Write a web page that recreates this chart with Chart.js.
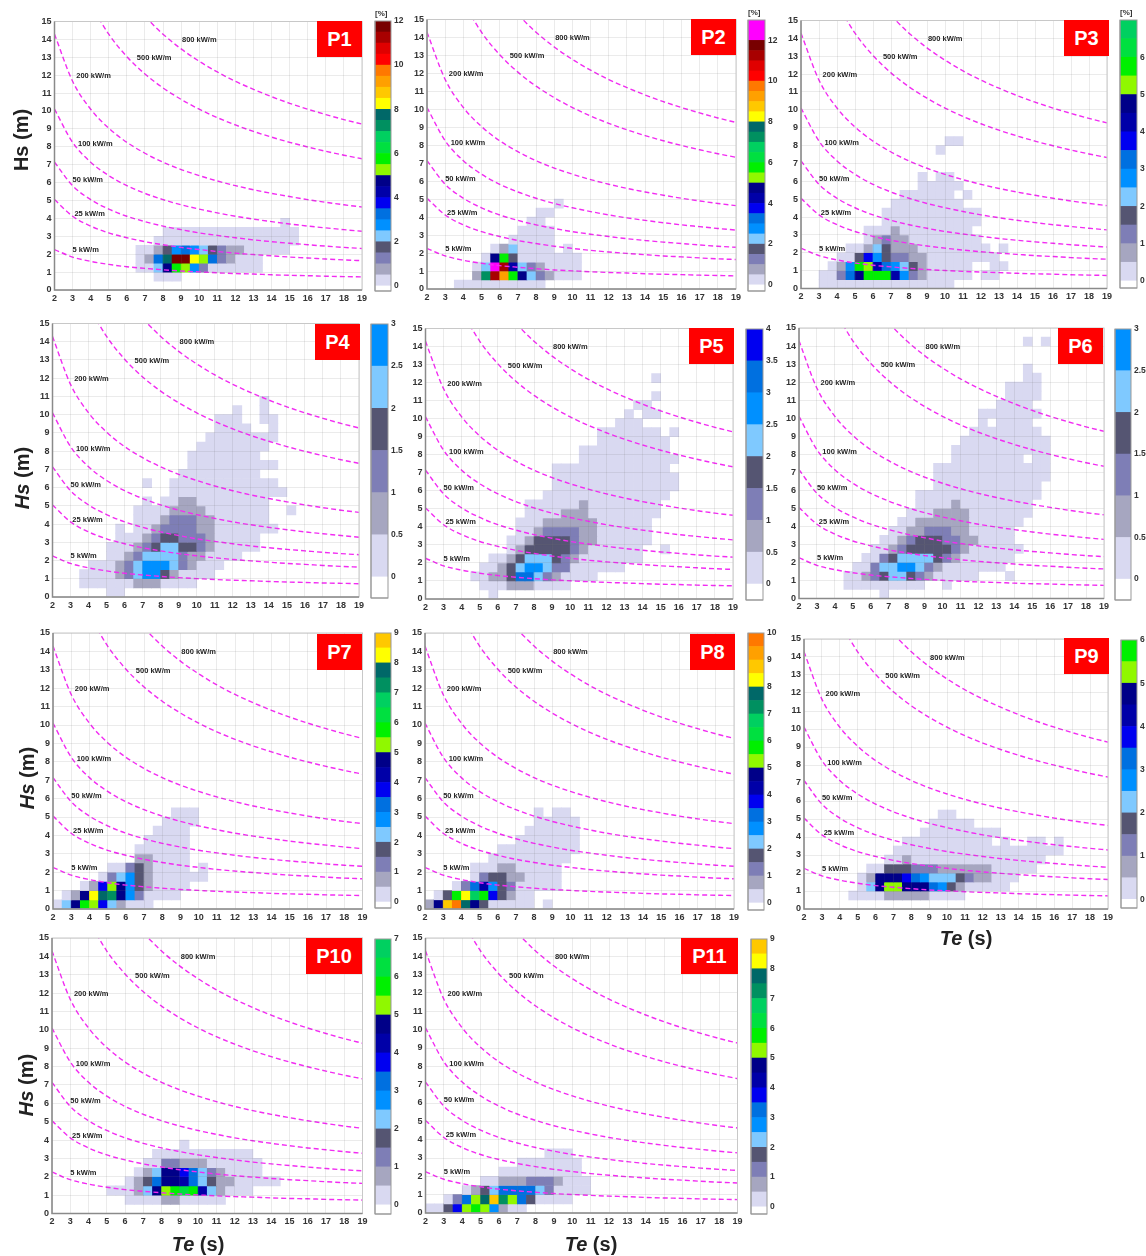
<!DOCTYPE html>
<html>
<head>
<meta charset="utf-8">
<title>Hs-Te scatter tables P1-P11</title>
<script src="https://cdn.jsdelivr.net/npm/chart.js@4/dist/chart.umd.min.js"></script>
<style>
  html, body { margin: 0; padding: 0; background: #fff; }
  #page { position: relative; width: 1146px; height: 1256px; overflow: hidden; font-family: "Liberation Sans", Arial, sans-serif; }
  #page canvas { position: absolute; filter: blur(0.35px); }
  .tag { position: absolute; background: #ff0000; color: #fff; font-weight: bold; font-size: 20px; display: flex; align-items: center; justify-content: center; }
  .unit { position: absolute; font-size: 8px; font-weight: bold; color: #333; }
  .ytitle, .xtitle { position: absolute; font-weight: bold; font-size: 20px; color: #222; white-space: nowrap; transform: translate(-50%, -50%); }
  .ytitle { transform: translate(-50%, -50%) rotate(-90deg); }
</style>
</head>
<body>
<div id="page"></div>
<script>
// Power contours, Hs (m) read at each Te (s)
const teGrid = [2, 3, 4, 5, 6, 7, 8, 9, 10, 11, 12, 13, 14, 15, 16, 17, 18, 19];
const curve5 = [2.26, 1.84, 1.60, 1.43, 1.30, 1.21, 1.13, 1.06, 1.01, .96, .92, .89, .85, .82, .80, .77, .75, .73];
const curve25 = [5.05, 4.12, 3.57, 3.19, 2.92, 2.70, 2.53, 2.38, 2.26, 2.15, 2.06, 1.98, 1.91, 1.84, 1.79, 1.73, 1.68, 1.64];
const curve50 = [7.14, 5.83, 5.05, 4.52, 4.12, 3.82, 3.57, 3.37, 3.19, 3.05, 2.92, 2.80, 2.70, 2.61, 2.53, 2.45, 2.38, 2.32];
const curve100 = [10.10, 8.25, 7.14, 6.39, 5.83, 5.40, 5.05, 4.76, 4.52, 4.31, 4.12, 3.96, 3.82, 3.69, 3.57, 3.47, 3.37, 3.28];
const curve200 = [14.29, 11.66, 10.10, 9.04, 8.25, 7.64, 7.14, 6.73, 6.39, 6.09, 5.83, 5.60, 5.40, 5.22, 5.05, 4.90, 4.76, 4.64];
const curve500 = [null, null, 15.97, 14.29, 13.04, 12.07, 11.29, 10.65, 10.10, 9.63, 9.22, 8.86, 8.54, 8.25, 7.99, 7.75, 7.53, 7.33];
const curve800 = [null, null, null, null, null, 15.27, 14.29, 13.47, 12.78, 12.18, 11.66, 11.21, 10.80, 10.43, 10.10, 9.80, 9.52, 9.27];
const curves = [curve5, curve25, curve50, curve100, curve200, curve500, curve800];

// Contour labels: text, Te and Hs where each one sits
const contourNames = ['5 kW/m', '25 kW/m', '50 kW/m', '100 kW/m', '200 kW/m', '500 kW/m', '800 kW/m'];
const contourTe = [3.0, 3.1, 3.0, 3.3, 3.2, 6.55, 9.05];
const contourHs = [2.23, 4.25, 6.15, 8.14, 11.95, 12.95, 13.97];

// Occurrence per cell in %, one row per Hs bin: [Hs bottom, Te start, values every 0.5 s ...]
const p1Rows = [
  [0.5, 7.5, .2, .2, .2],
  [1, 6.5, .2, .2, 2.2, 4.7, 5.7, 5.2, 2.7, 1.2, .2, .2, .2, .2, .2, .2],
  [1.5, 6.5, .2, .7, 3.2, 7.7, 11.7, 11.7, 8.2, 5.2, 3.2, 1.2, .7, .2, .2, .2],
  [2, 6.5, .2, .2, .7, 1.7, 2.7, 3.2, 2.7, 2.2, 1.7, 1.2, .7, .7, .2, .2, .2, .2, .2],
  [2.5, 7.5, .2, .2, .2, .2, .2, .2, .2, .2, .2, .2, .2, .2, .2, .2, .2, .2],
  [3, 8, .2, .2, .2, .2, .2, .2, .2, .2, .2, .2, .2, .2, .2, .2, .2],
  [3.5, 14.5, .2]
];
const p2Rows = [
  [0, 3.5, .2, .2, .2, .2, .2, .2, .2, .2, .2, .2],
  [0.5, 4.5, .7, 7.2, 11.2, 9.2, 5.7, 4.7, 2.2, 1.2, .7, .2, .2, .2],
  [1, 4.5, .2, 2.2, 12.2, 11.2, 4.2, 2.2, 1.2, .7, .2, .2, .2, .2],
  [1.5, 5, .2, 4.7, 5.7, 1.7, .2, .2, .2, .2, .2, .2, .2],
  [2, 5.5, .2, .7, 2.2, .2, .2, .2, .2, 0, .2],
  [2.5, 6.5, .2, .2, .2, .2, .2],
  [3, 7, .2, .2, .2, .2],
  [3.5, 7.5, .2, .2],
  [4, 8, .2, .2],
  [4.5, 9, .2]
];
const p3Rows = [
  [0, 3, .2, .2, .2, .2, .2, .2, .2, .2, .2, .2, .2, .2, .2, .2, .2],
  [0.5, 3, .2, .2, 1.2, 3.2, 4.7, 5.7, 5.7, 5.7, 4.2, 2.7, 1.2, .7, .2, .2, .2, .2, .2, 0, .2, .2],
  [1, 3.5, .2, .7, 2.7, 5.7, 5.2, 4.2, 3.2, 2.7, 2.2, 1.7, .7, .2, .2, .2, .2, .2, 0, 0, .2, .2],
  [1.5, 4, .2, .2, 1.7, 3.7, 2.7, 1.7, 1.2, 1.2, .7, .7, .2, .2, .2, .2, .2, .2, .2, .2],
  [2, 4.5, .2, .2, .7, 2.2, 1.7, .7, .7, .7, .2, .2, .2, .2, .2, .2, .2, .2, 0, .2],
  [2.5, 5.5, .2, .7, 1.2, .7, .7, .2, .2, .2, .2, .2, .2, .2, .2],
  [3, 5.5, .2, .2, .2, .7, .2, .2, .2, .2, .2, .2, .2, .2],
  [3.5, 6.5, .2, .2, .2, .2, .2, .2, .2, .2, .2, .2, .2],
  [4, 6.5, .2, .2, .2, .2, .2, .2, .2, .2, .2, .2, .2],
  [4.5, 7, .2, .2, .2, .2, .2, .2, .2, .2],
  [5, 7.5, .2, .2, .2, .2, .2, .2, 0, .2],
  [5.5, 8.5, .2, .2, .2, .2, .2],
  [6, 8.5, .2, 0, .2, .2],
  [7.5, 9.5, .2],
  [8, 10, .2, .2]
];
const p4Rows = [
  [0, 5, .2, .2],
  [0.5, 3.5, .2, .2, .2, .2, .2, .2, .7, .7, .7, .2, .2, .2, .2],
  [1, 3.5, .2, .2, .2, .2, .7, 1.2, 2.2, 2.7, 2.7, 1.7, .7, .2, .2, .2, .2],
  [1.5, 4, .2, .2, .2, .7, 1.2, 2.2, 2.7, 2.7, 2.7, 2.2, 1.2, .7, .2, .2, .2],
  [2, 5, .2, .2, .7, 1.2, 2.2, 2.2, 2.2, 2.2, 1.2, .7, .7, .2, .2, .2, .2],
  [2.5, 5, .2, .2, .2, .7, 1.2, 1.7, 2.2, 2.2, 1.7, 1.7, 1.2, .7, .2, .2, .2, .2, .2],
  [3, 5.5, .2, .2, .2, .7, 1.2, 1.7, 1.7, 1.2, 1.2, 1.2, .7, .2, .2, .2, .2, .2],
  [3.5, 5.5, .2, 0, .2, .2, .7, 1.2, 1.2, 1.2, 1.2, .7, .7, .2, .2, .2, .2, .2, .2, .2],
  [4, 6.5, .2, .2, .2, .7, 1.2, 1.2, 1.2, .7, .7, .2, .2, .2, .2, .2, .2],
  [4.5, 6.5, .2, .2, .2, .2, .7, .7, .7, .7, .2, .2, .2, .2, .2, .2, .2, 0, 0, .2],
  [5, 7, .2, 0, .2, .2, .7, .7, .2, .2, .2, .2, .2, .2, .2, .2],
  [5.5, 8.5, .2, .2, .2, .2, .2, .2, .2, .2, .2, .2, .2, .2, .2],
  [6, 7, .2, 0, 0, .2, .2, .2, .2, .2, .2, .2, .2, .2, .2, .2, .2],
  [6.5, 9, .2, .2, .2, .2, .2, .2, .2, .2, .2],
  [7, 9.5, .2, .2, .2, .2, .2, .2, .2, .2, .2, .2],
  [7.5, 9.5, .2, .2, .2, .2, .2, .2, .2, .2],
  [8, 10, .2, .2, .2, .2, .2, .2, .2, .2],
  [8.5, 10.5, .2, .2, .2, .2, .2, .2, .2, .2],
  [9, 11, .2, .2, .2, .2, 0, 0, .2],
  [9.5, 11, .2, .2, .2, 0, 0, .2, .2],
  [10, 12, .2, 0, 0, .2],
  [10.5, 13.5, .2]
];
const p5Rows = [
  [0, 5.5, .2],
  [0.5, 5, .2, .2, .2, .7, .7, .7, .2, .2, .2, .2],
  [1, 4.5, .2, .2, .7, .7, 1.7, 3.2, 3.2, 2.2, 1.2, .7, .2, .2, .2, .2],
  [1.5, 5, .2, .2, .7, 1.7, 2.2, 2.7, 2.7, 2.2, 1.2, 1.2, .2, .2, .2, .2, .2, .2],
  [2, 5.5, .2, .2, .7, 1.7, 2.2, 2.2, 2.2, 1.7, 1.2, .7, .2, .2, .2, .2, .2, .2, .2],
  [2.5, 6.5, .2, .7, 1.7, 1.7, 1.7, 1.7, 1.7, 1.2, .7, .2, .2, .2, .2, .2, .2, 0, 0, .2],
  [3, 6.5, .2, .2, .7, 1.7, 1.7, 1.7, 1.7, 1.2, .7, .7, .2, .2, .2, .2, .2, .2],
  [3.5, 7, .2, .2, .7, 1.2, 1.2, 1.2, 1.2, .7, .7, .2, .2, .2, .2, .2, .2],
  [4, 7, .2, .2, .2, .7, .7, .7, .7, .7, .7, .2, .2, .2, .2, .2, .2],
  [4.5, 7.5, .2, .2, .2, .2, .7, .7, .7, .2, .2, .2, .2, .2, .2, .2, .2],
  [5, 7.5, .2, .2, .2, .2, .2, .2, .7, .2, .2, .2, .2, .2, .2, .2, .2],
  [5.5, 8.5, .2, .2, .2, .2, .2, .2, .2, .2, .2, .2, .2, .2, .2, .2],
  [6, 9, .2, .2, .2, .2, .2, .2, .2, .2, .2, .2, .2, .2, .2, .2],
  [6.5, 9, .2, .2, .2, .2, .2, .2, .2, .2, .2, .2, .2, .2, .2, .2],
  [7, 9, .2, .2, .2, .2, .2, .2, .2, .2, .2, .2, .2, .2, .2],
  [7.5, 10.5, .2, .2, .2, .2, .2, .2, .2, .2, .2, .2, .2],
  [8, 10.5, .2, .2, .2, .2, .2, .2, .2, .2, .2, .2],
  [8.5, 11.5, .2, .2, .2, .2, .2, .2, .2, .2],
  [9, 11.5, .2, .2, .2, .2, .2, .2, .2, 0, .2],
  [9.5, 12.5, .2, .2, .2],
  [10, 13, .2, 0, .2, .2],
  [10.5, 13.5, .2, .2],
  [11, 14.5, .2],
  [12, 14.5, .2]
];
const p6Rows = [
  [0, 6.5, .2],
  [0.5, 4.5, .2, .2, .2, .2, .2, .2, .2, .2, .2, 0, 0, .2],
  [1, 4.5, .2, .2, .7, 1.2, 1.7, 2.2, 2.2, 1.7, 1.2, .7, .2, .2, .2, .2, .2, 0, 0, 0, .2],
  [1.5, 5, .2, .2, 1.2, 2.2, 2.2, 2.7, 2.7, 2.2, 1.2, .7, .2, .2, .2, .2, .2, .2, .2],
  [2, 5.5, .2, .2, 1.2, 1.7, 2.2, 2.2, 2.2, 2.2, 1.7, 1.2, .7, .2, .2, .2, .2, .2, .2],
  [2.5, 6, .2, .2, .7, 1.2, 1.7, 1.7, 1.7, 1.7, 1.7, 1.2, .7, .2, .2, .2, .2, .2, .2],
  [3, 6.5, .2, .2, .7, 1.2, 1.7, 1.7, 1.7, 1.2, 1.2, .7, .7, .2, .2, .2, .2],
  [3.5, 7, .2, .2, .7, .7, 1.2, 1.2, 1.2, .7, .7, .2, .2, .2, .2, .2],
  [4, 7.5, .2, .2, .7, .7, .7, .7, .7, .7, .2, .2, .2, .2, .2, .2],
  [4.5, 8, .2, .2, .2, .7, .7, .7, .7, .2, .2, .2, .2, .2, .2, .2],
  [5, 8.5, .2, .2, .2, .2, .7, .2, .2, .2, .2, .2, .2, .2, .2],
  [5.5, 8.5, .2, .2, .2, .2, .2, .2, .2, .2, .2, .2, .2, .2, .2, .2],
  [6, 9.5, .2, .2, .2, .2, .2, .2, .2, .2, .2, .2, .2, .2],
  [6.5, 9.5, .2, .2, .2, .2, .2, .2, .2, .2, .2, .2, .2, .2, .2],
  [7, 9.5, .2, .2, .2, .2, .2, .2, .2, .2, .2, .2, .2, .2, .2],
  [7.5, 10.5, .2, .2, .2, .2, .2, .2, .2, .2, 0, .2, .2],
  [8, 10.5, .2, .2, .2, .2, .2, .2, .2, .2, .2, .2, .2],
  [8.5, 11, .2, .2, .2, .2, .2, .2, .2, .2, .2, .2],
  [9, 11.5, .2, .2, .2, .2, .2, .2, .2, .2],
  [9.5, 12, .2, 0, .2, .2, .2, .2],
  [10, 12, .2, .2, .2, .2, .2, .2, .2],
  [10.5, 13, .2, .2, .2, .2],
  [11, 13.5, .2, .2, .2, .2],
  [11.5, 13.5, .2, .2, .2, .2],
  [12, 14.5, .2, .2],
  [12.5, 14.5, .2],
  [14, 14.5, .2, 0, .2]
];
const p7Rows = [
  [0, 2, .2, 2.2, 4.7, 5.7, 5.2, 3.7, 2.2, .7, .2, .2, .2],
  [0.5, 2.5, .2, .7, 4.7, 8.2, 7.7, 7.2, 4.7, 2.7, 1.2, .2, .2, .2, .2],
  [1, 3.5, .2, .7, 3.7, 5.2, 4.7, 2.7, 1.7, .7, .2, .2, .2, .2],
  [1.5, 4.5, .2, 1.2, 2.2, 2.7, 1.7, .7, .2, .2, .2, .2, .2, .2],
  [2, 5, .2, .2, 1.2, 1.7, .7, .2, .2, .2, .2, 0, .2],
  [2.5, 6.5, .7, .7, .2, .2, .2, .2],
  [3, 6.5, .2, .2, .2, .2, .2, .2],
  [3.5, 7, .2, .2, .2, .2, .2],
  [4, 7.5, .2, .2, .2, .2],
  [4.5, 8, .2, .2, .2, .2],
  [5, 8.5, .2, .2, .2]
];
const p8Rows = [
  [0, 2, .7, 4.7, 8.7, 9.7, 7.7, 4.7, 1.7, .2, .2, .2, .2, .2, 0, .2],
  [0.5, 2.5, .2, 1.7, 5.7, 8.2, 6.7, 5.7, 3.7, 1.7, .7, .2, .2],
  [1, 3.5, .2, 1.2, 3.2, 4.2, 2.7, 1.7, 1.2, .2, .2, .2, .2, .2],
  [1.5, 4.5, .2, 1.2, 1.7, 1.7, .7, .7, .2, .2, .2, .2],
  [2, 4.5, .2, .2, .2, .7, .7, .2, .2, .2, .2, .2],
  [2.5, 5.5, .2, .2, .2, .2, .2, .2, .2, .2, .2],
  [3, 6, .2, .2, .2, .2, .2, .2, .2, .2, .2],
  [3.5, 7, .2, .2, .2, .2, .2, .2, .2],
  [4, 7.5, .2, .2, .2, .2, .2, .2],
  [4.5, 8, .2, .2, .2, .2, .2],
  [5, 8, .2, 0, .2, .2]
];
const p9Rows = [
  [0.5, 4.5, .2, .2, .2, .2, .7, .7, .7, .7, .7, .2, .2, .2, .2],
  [1, 5, .2, 2.2, 4.7, 5.2, 5.2, 4.7, 4.7, 4.7, 3.2, 2.7, 1.7, .7, .2, .2, .2, .2, .2],
  [1.5, 5, .2, .7, 4.7, 4.7, 4.7, 3.7, 3.2, 2.7, 2.2, 2.2, 2.2, 1.7, 1.2, .7, .7, .2, .2, .2],
  [2, 5.5, .2, .2, 1.7, 1.7, 1.7, 1.2, 1.2, 1.2, .7, .7, .7, .7, .7, .7, .2, .2, .2, .2, .2],
  [2.5, 6.5, .2, .2, .7, .2, .2, .2, .2, .2, .2, .2, .2, .2, .2, .2, .2, .2, .2, .2],
  [3, 7, .2, .2, .2, .2, .2, .2, .2, .2, .2, .2, .2, .2, .2, .2, .2, .2, .2, .2, .2],
  [3.5, 7.5, .2, .2, .2, .2, .2, .2, .2, .2, .2, .2, 0, .2, 0, 0, .2, .2, 0, .2],
  [4, 8.5, .2, .2, .2, .2, .2, .2, .2, .2, .2],
  [4.5, 9, .2, .2, .2, .2, .2],
  [5, 9.5, .2, .2]
];
const p10Rows = [
  [0.5, 6, .2, .2, .2, .2, .7, .7, .2, .2, .2, .2, .2],
  [1, 5, .2, .2, .2, .7, 2.2, 4.7, 5.2, 5.7, 6.2, 5.7, 4.2, 2.2, .7, .2, .2, .2],
  [1.5, 6, .2, .7, 1.7, 3.2, 4.7, 4.7, 4.2, 3.2, 2.2, 1.7, .7, .7, .2, .2, .2, .2, .2],
  [2, 6.5, .2, .7, 2.2, 4.7, 4.7, 3.7, 3.2, 2.2, 1.2, .7, .2, .2, .2, .2],
  [2.5, 7, .2, .2, 1.2, 1.2, .7, .7, .7, .2, .2, .2, .2, .2, .2],
  [3, 7.5, .2, .2, .2, .2, .2, .2, .2, .2, .2, .2, .2],
  [3.5, 9, .2]
];
const p11Rows = [
  [0, 2, .2, .2, 1.7, 3.7, 5.2, 5.7, 5.2, 2.7, .7, .2, .2],
  [0.5, 3, .2, 1.2, 3.2, 5.2, 7.7, 8.7, 7.2, 5.2, 3.2, 1.7, .2, .2, .2, .2],
  [1, 4, .2, .7, 1.7, 2.2, 3.2, 3.2, 3.2, 3.2, 2.2, 1.2, .2, .2, .2, .2],
  [1.5, 5, .2, .2, .7, .7, .7, 1.2, 1.2, 1.2, .7, .2, .2, .2],
  [2, 6, .2, .2, .2, .2, .2, .2, .2, .2, .2],
  [2.5, 7, .2, .2, .2, .2, .2, .2, .2],
  [3, 8.5, .2, .2, .2]
];

// Colorbar tick labels per panel
const p1Ticks = [0, 2, 4, 6, 8, 10, 12];
const p2Ticks = [0, 2, 4, 6, 8, 10, 12];
const p3Ticks = [0, 1, 2, 3, 4, 5, 6];
const p4Ticks = [0, .5, 1, 1.5, 2, 2.5, 3];
const p5Ticks = [0, .5, 1, 1.5, 2, 2.5, 3, 3.5, 4];
const p6Ticks = [0, .5, 1, 1.5, 2, 2.5, 3];
const p7Ticks = [0, 1, 2, 3, 4, 5, 6, 7, 8, 9];
const p8Ticks = [0, 1, 2, 3, 4, 5, 6, 7, 8, 9, 10];
const p9Ticks = [0, 1, 2, 3, 4, 5, 6];
const p10Ticks = [0, 1, 2, 3, 4, 5, 6, 7];
const p11Ticks = [0, 1, 2, 3, 4, 5, 6, 7, 8, 9];

// One colour per 0.5 % band
const bandColors = ['#d9d9f1', '#a6a6c0', '#7e7eb6', '#555572', '#7fc9ff', '#0090ff', '#0070e0', '#0000f0',
  '#0000a8', '#000088', '#90f800', '#00f000', '#00e040', '#00d060', '#009060', '#006868',
  '#ffff00', '#ffc800', '#ffa000', '#ff7800', '#ff0000', '#e00000', '#a80000', '#780000', '#ff00ff', '#ff00ff'];

// plot = [left, right, top, bottom], bar = [left, right, top, bottom, value at bottom, value at top], tag = [left, top, width]
const panels = [
  { name: 'P1', rows: p1Rows, ticks: p1Ticks, plot: [54.5, 362, 21.5, 290], bar: [375, 390, 21, 291, -.23, 12], tag: [317, 21, 45], unit: [375, 9] },
  { name: 'P2', rows: p2Rows, ticks: p2Ticks, plot: [427, 736, 19.5, 289], bar: [748, 764, 20, 291, -.3, 13], tag: [691, 19, 45], unit: [748, 8] },
  { name: 'P3', rows: p3Rows, ticks: p3Ticks, plot: [801, 1107, 20.5, 288.5], bar: [1120, 1136, 20, 288, -.19, 7], tag: [1064, 20, 45], unit: [1120, 8] },
  { name: 'P4', rows: p4Rows, ticks: p4Ticks, plot: [52.5, 359, 323.5, 597], bar: [371, 387, 324, 598, -.25, 3], tag: [315, 324, 45] },
  { name: 'P5', rows: p5Rows, ticks: p5Ticks, plot: [425.5, 733, 328.5, 599], bar: [746, 762, 329, 600, -.25, 4], tag: [689, 328, 45] },
  { name: 'P6', rows: p6Rows, ticks: p6Ticks, plot: [799, 1104, 328, 598.5], bar: [1115, 1130, 329, 600, -.25, 3], tag: [1058, 328, 45] },
  { name: 'P7', rows: p7Rows, ticks: p7Ticks, plot: [53, 362.5, 633, 909], bar: [375, 390, 633, 908, -.2, 9], tag: [317, 634, 45] },
  { name: 'P8', rows: p8Rows, ticks: p8Ticks, plot: [425, 734, 633, 909], bar: [748, 763, 633, 910, -.26, 10], tag: [690, 634, 45] },
  { name: 'P9', rows: p9Rows, ticks: p9Ticks, plot: [804, 1108, 639, 909], bar: [1121, 1136, 640, 908, -.2, 6], tag: [1064, 638, 45] },
  { name: 'P10', rows: p10Rows, ticks: p10Ticks, plot: [52, 362.5, 938, 1213.5], bar: [375, 390, 939, 1214, -.24, 7], tag: [306, 938, 56] },
  { name: 'P11', rows: p11Rows, ticks: p11Ticks, plot: [425.5, 737.5, 938, 1213], bar: [751, 766, 939, 1214, -.24, 9], tag: [681, 938, 57] }
];

// Axis titles
const yTitles = [
  { x: 21, y: 140, html: 'Hs (m)' },
  { x: 22, y: 478, html: '<i>Hs</i> (m)' },
  { x: 27, y: 778, html: '<i>Hs</i> (m)' },
  { x: 26, y: 1085, html: '<i>Hs</i> (m)' }
];
const xTitles = [
  { x: 966, y: 938, html: '<i>Te</i> (s)' },
  { x: 198, y: 1244, html: '<i>Te</i> (s)' },
  { x: 591, y: 1244, html: '<i>Te</i> (s)' }
];

const page = document.getElementById('page');
const tickFont = { family: '"Liberation Sans", Arial, sans-serif', size: 9, weight: 'bold' };

function addCanvas(left, top, width, height) {
  const c = document.createElement('canvas');
  c.width = width;
  c.height = height;
  c.style.left = left + 'px';
  c.style.top = top + 'px';
  c.style.width = width + 'px';
  c.style.height = height + 'px';
  page.appendChild(c);
  return c;
}

function addDiv(cls, x, y, html) {
  const d = document.createElement('div');
  d.className = cls;
  d.style.left = x + 'px';
  d.style.top = y + 'px';
  d.innerHTML = html;
  page.appendChild(d);
  return d;
}

function bandColor(v) {
  return bandColors[Math.floor(v * 2)];
}

// Box around the plot area: lighter top and right, darker left and bottom
const framePlugin = {
  id: 'frame',
  afterDraw(chart, args, opts) {
    const a = chart.chartArea, g = chart.ctx;
    g.save();
    g.lineWidth = 1;
    g.strokeStyle = opts.color;
    g.strokeRect(a.left, a.top, a.right - a.left, a.bottom - a.top);
    g.strokeStyle = opts.axisColor;
    g.lineWidth = opts.axisWidth;
    g.beginPath();
    g.moveTo(a.left, a.top);
    g.lineTo(a.left, a.bottom);
    g.lineTo(a.right, a.bottom);
    g.stroke();
    g.restore();
  }
};

// kW/m labels next to the contours
const contourLabelPlugin = {
  id: 'contourLabels',
  afterDatasetsDraw(chart) {
    const g = chart.ctx;
    g.save();
    g.fillStyle = '#222';
    g.font = 'bold 7.5px "Liberation Sans", Arial, sans-serif';
    g.textBaseline = 'middle';
    contourNames.forEach((name, i) => {
      g.fillText(name, chart.scales.x.getPixelForValue(contourTe[i]), chart.scales.y.getPixelForValue(contourHs[i]));
    });
    g.restore();
  }
};

// Scales keep room for half a tick label by default, which would pull the plot in
function dropScalePadding(s) {
  s.paddingLeft = 0;
  s.paddingRight = 0;
  s.paddingTop = 0;
  s.paddingBottom = 0;
}

function drawHeat(p) {
  const [l, r, t, b] = p.plot;
  const padL = 30, padB = 20, padT = 6, padR = 6;
  const x0 = Math.floor(l) - padL, y0 = Math.floor(t) - padT;
  const cw = Math.ceil(r) + padR - x0, ch = Math.ceil(b) + padB - y0;

  const cells = [], colors = [];
  p.rows.forEach(row => {
    const hs = row[0], te = row[1];
    row.slice(2).forEach((v, i) => {
      if (v > 0) {
        cells.push({ x: te + i * .5 + .25, y: [hs, hs + .5] });
        colors.push(bandColor(v));
      }
    });
  });

  const lines = curves.map(c => ({
    type: 'line',
    data: teGrid.map((te, i) => ({ x: te, y: c[i] })).filter(d => d.y !== null),
    borderColor: '#f22cf2',
    borderWidth: 1.4,
    borderDash: [5, 3],
    pointRadius: 0,
    cubicInterpolationMode: 'monotone',
    order: 0
  }));

  new Chart(addCanvas(x0, y0, cw, ch), {
    type: 'bar',
    data: {
      datasets: [{
        data: cells,
        backgroundColor: colors,
        borderWidth: 0,
        barPercentage: 1,
        categoryPercentage: 1,
        grouped: false,
        order: 1
      }].concat(lines)
    },
    options: {
      responsive: false,
      animation: false,
      devicePixelRatio: 1,
      layout: {
        autoPadding: false,
        padding: { left: l - x0 - padL, top: t - y0, right: x0 + cw - r, bottom: 0 }
      },
      scales: {
        x: {
          type: 'linear',
          offset: false,
          min: 2,
          max: 19,
          afterFit: s => { s.height = y0 + ch - b; dropScalePadding(s); },
          ticks: { stepSize: 1, autoSkip: false, maxRotation: 0, color: '#333', font: tickFont, padding: 3 },
          grid: { color: 'rgba(110,110,110,.14)', z: 1, drawTicks: false, offset: false },
          border: { display: false }
        },
        y: {
          min: 0,
          max: 15,
          afterFit: s => { s.width = padL; dropScalePadding(s); },
          ticks: { stepSize: 1, autoSkip: false, color: '#333', font: tickFont, padding: 3 },
          grid: { color: 'rgba(110,110,110,.14)', z: 1, drawTicks: false },
          border: { display: false }
        }
      },
      plugins: {
        legend: { display: false },
        tooltip: { enabled: false },
        frame: { color: '#c8c8c8', axisColor: '#8a8a8a', axisWidth: 1.5 }
      }
    },
    plugins: [framePlugin, contourLabelPlugin]
  });
}

function drawColorbar(p) {
  const [l, r, t, b, low, high] = p.bar;
  const padT = 6, padB = 6, axisW = 24;
  const x0 = l - 1, y0 = t - padT;
  const cw = r - l + axisW + 2, ch = b - t + padT + padB;

  // white below zero, then the 0.5 % bands up to the top of the bar
  const sets = [{ data: [[low, 0]], backgroundColor: '#fff' }];
  for (let i = 0; i * .5 < high; i++) {
    sets.push({ data: [[i * .5, (i + 1) * .5]], backgroundColor: bandColors[i] });
  }
  sets.forEach(s => {
    s.barPercentage = 1;
    s.categoryPercentage = 1;
    s.grouped = false;
    s.borderWidth = 0;
  });

  new Chart(addCanvas(x0, y0, cw, ch), {
    type: 'bar',
    data: { labels: [''], datasets: sets },
    options: {
      responsive: false,
      animation: false,
      devicePixelRatio: 1,
      layout: { autoPadding: false, padding: { left: 1, top: padT, right: 0, bottom: padB } },
      scales: {
        x: { display: false },
        y: {
          position: 'right',
          min: low,
          max: high,
          afterFit: s => { s.width = axisW; dropScalePadding(s); },
          afterBuildTicks: s => { s.ticks = p.ticks.map(v => ({ value: v })); },
          ticks: { color: '#333', font: { family: tickFont.family, size: 8.5, weight: 'bold' }, padding: 3, callback: v => String(v) },
          grid: { display: false, drawTicks: false },
          border: { display: false }
        }
      },
      plugins: {
        legend: { display: false },
        tooltip: { enabled: false },
        frame: { color: '#999', axisColor: '#999', axisWidth: 1 }
      }
    },
    plugins: [framePlugin]
  });
}

panels.forEach(p => {
  drawHeat(p);
  drawColorbar(p);
  const tag = addDiv('tag', p.tag[0], p.tag[1], p.name);
  tag.style.width = p.tag[2] + 'px';
  tag.style.height = '36px';
  if (p.unit) addDiv('unit', p.unit[0], p.unit[1], '[%]');
});
yTitles.forEach(t => addDiv('ytitle', t.x, t.y, t.html));
xTitles.forEach(t => addDiv('xtitle', t.x, t.y, t.html));
</script>
</body>
</html>
